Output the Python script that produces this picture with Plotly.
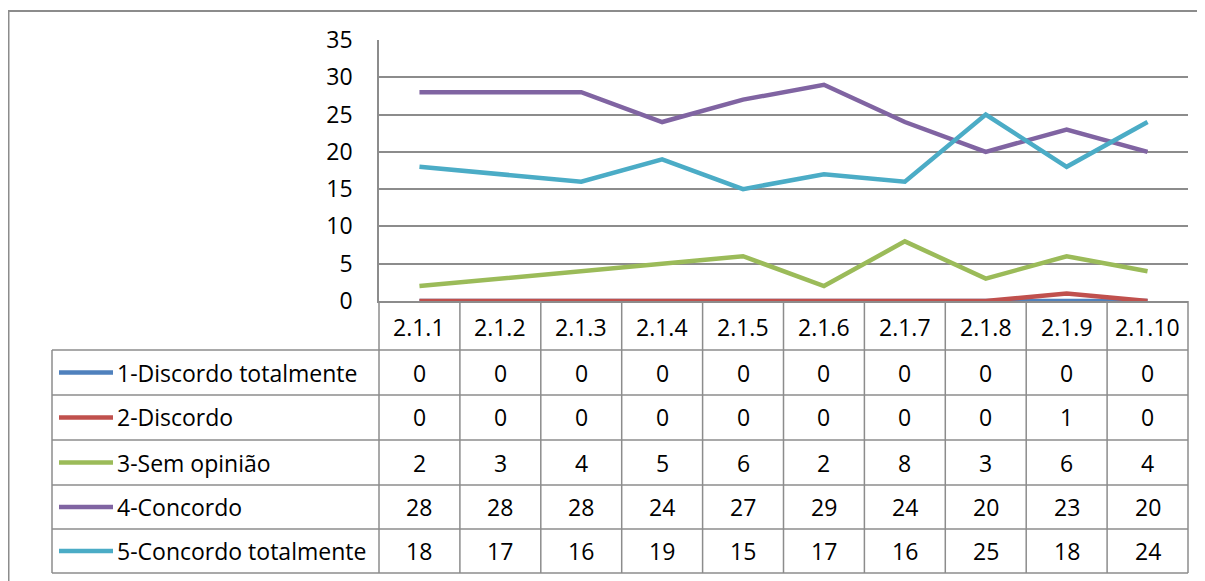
import plotly.graph_objects as go

categories = ['2.1.1', '2.1.2', '2.1.3', '2.1.4', '2.1.5', '2.1.6', '2.1.7', '2.1.8', '2.1.9', '2.1.10']
series_names = ['1-Discordo totalmente', '2-Discordo', '3-Sem opinião', '4-Concordo', '5-Concordo totalmente']
discordo_totalmente = [0, 0, 0, 0, 0, 0, 0, 0, 0, 0]
discordo = [0, 0, 0, 0, 0, 0, 0, 0, 1, 0]
sem_opiniao = [2, 3, 4, 5, 6, 2, 8, 3, 6, 4]
concordo = [28, 28, 28, 24, 27, 29, 24, 20, 23, 20]
concordo_totalmente = [18, 17, 16, 19, 15, 17, 16, 25, 18, 24]
y_ticks = [0, 5, 10, 15, 20, 25, 30, 35]

series_values = [discordo_totalmente, discordo, sem_opiniao, concordo, concordo_totalmente]
colors = ['#4F81BD', '#C0504D', '#9BBB59', '#8064A2', '#4BACC6']

# the page body has an 8px margin, so the figure is made that much smaller
OFF = 8
W, H = 1205 - OFF, 581 - OFF
FONT = 'Open Sans'
FS = 23
GRID = '#8C8C8C'


def px(x):
    # screen pixel -> paper x
    return (x - OFF) / W


def py(y):
    # screen pixel -> paper y
    return 1 - (y - OFF) / H


# pixel geometry (screen) of the plot area and table
left, right = 379, 1188
top, bottom = 40, 301
header_bottom = 350
row_lines = [350, 395, 440, 485, 529, 573]
table_left = 52

fig = go.Figure()

for name, vals, col in zip(series_names, series_values, colors):
    fig.add_trace(go.Scatter(
        x=categories, y=vals, name=name, mode='lines',
        line=dict(color=col, width=4.5),
        cliponaxis=False, showlegend=False))

shapes = []
annotations = []

# outer chart border
shapes.append(dict(type='line', xref='paper', yref='paper', x0=px(8.5), x1=px(8.5), y0=py(11), y1=py(600),
                   line=dict(color=GRID, width=2)))
shapes.append(dict(type='line', xref='paper', yref='paper', x0=px(8), x1=px(1220), y0=py(11), y1=py(11),
                   line=dict(color=GRID, width=2)))

# table horizontal lines
for yy in row_lines:
    shapes.append(dict(type='line', xref='paper', yref='paper', x0=px(table_left), x1=px(right),
                       y0=py(yy), y1=py(yy), line=dict(color=GRID, width=1.5)))
# left edge of legend column
shapes.append(dict(type='line', xref='paper', yref='paper', x0=px(table_left), x1=px(table_left),
                   y0=py(header_bottom), y1=py(row_lines[-1]), line=dict(color=GRID, width=1.5)))
# column dividers
col_w = (right - left) / len(categories)
for i in range(len(categories) + 1):
    xx = left + i * col_w
    shapes.append(dict(type='line', xref='paper', yref='paper', x0=px(xx), x1=px(xx),
                       y0=py(bottom), y1=py(row_lines[-1]), line=dict(color=GRID, width=1.5)))

# header labels
for c in categories:
    annotations.append(dict(x=c, xref='x', y=py((bottom + header_bottom) / 2 + 1), yref='paper',
                            text=c, showarrow=False, xanchor='center', yanchor='middle',
                            font=dict(family=FONT, size=FS, color='black')))

# rows: legend key + values
for r, (name, vals, col) in enumerate(zip(series_names, series_values, colors)):
    yc = (row_lines[r] + row_lines[r + 1]) / 2
    shapes.append(dict(type='line', xref='paper', yref='paper', x0=px(59), x1=px(113),
                       y0=py(yc), y1=py(yc), line=dict(color=col, width=4.5)))
    annotations.append(dict(x=px(115), xref='paper', y=py(yc), yref='paper', text=name,
                            showarrow=False, xanchor='left', yanchor='middle',
                            font=dict(family=FONT, size=FS, color='black')))
    for c, v in zip(categories, vals):
        annotations.append(dict(x=c, xref='x', y=py(yc), yref='paper', text=str(v),
                                showarrow=False, xanchor='center', yanchor='middle',
                                font=dict(family=FONT, size=FS, color='black')))

fig.update_layout(
    width=W, height=H,
    autosize=False,
    margin=dict(l=0, r=0, t=0, b=0, pad=0),
    paper_bgcolor='white',
    plot_bgcolor='white',
    shapes=shapes,
    annotations=annotations,
    font=dict(family=FONT, size=FS, color='black'),
    xaxis=dict(domain=[px(left), px(right)], range=[-0.5, len(categories) - 0.5],
               showticklabels=False, showgrid=False, zeroline=False, automargin=False,
               showline=True, linecolor=GRID, linewidth=1.5, ticks=''),
    yaxis=dict(domain=[py(bottom), py(top)], range=[0, 35], tickvals=y_ticks,
               showgrid=True, gridcolor=GRID, gridwidth=1.5, zeroline=False, automargin=False,
               showline=True, linecolor=GRID, linewidth=1.5, ticks='',
               ticklabelstandoff=20,
               tickfont=dict(family=FONT, size=FS, color='black')),
)

fig.write_html("out.html")
